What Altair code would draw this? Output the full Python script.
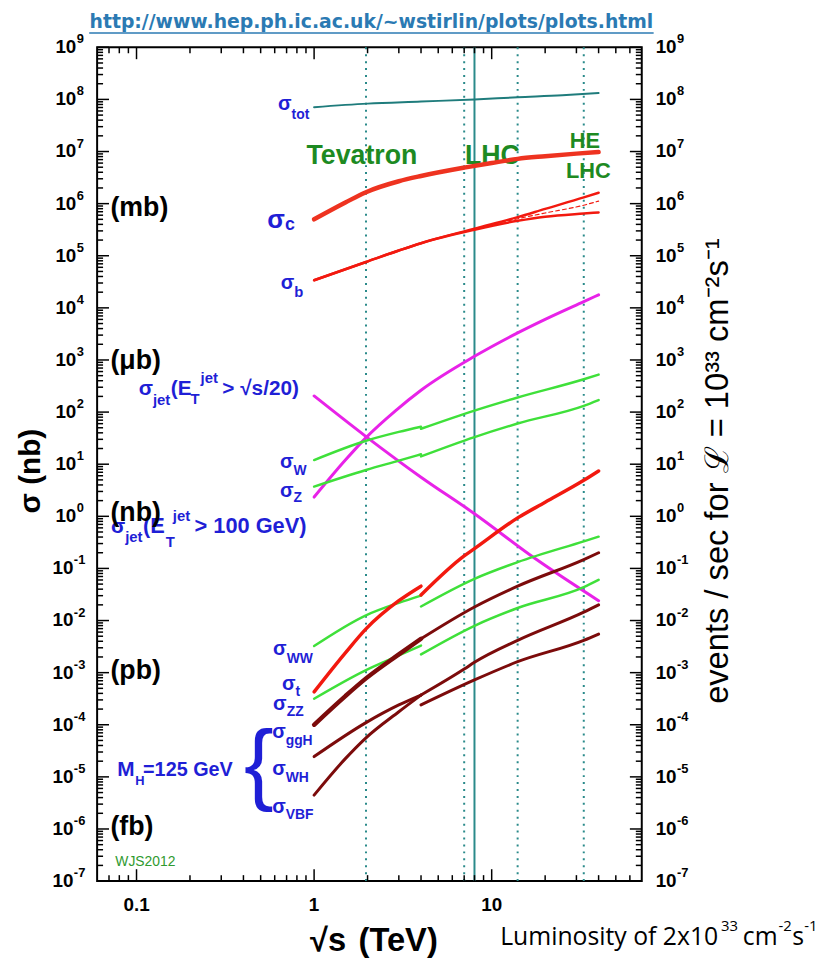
import altair as alt
import pandas as pd
from collections import defaultdict

# ---------------- data (sqrt(s) in TeV, sigma in nb) ----------------
TOT_S = [1, 2, 4, 8, 14, 25, 40]
TOT_SIG = [7.1e7, 8.3e7, 9.1e7, 1.0e8, 1.1e8, 1.2e8, 1.33e8]

C_S = [1, 1.5, 1.96, 3, 4, 7, 10, 14, 20, 30, 40]
C_SIG = [5.0e5, 1.05e6, 1.66e6, 2.69e6, 3.39e6, 4.9e6, 6.03e6, 7.24e6, 8.13e6, 9.12e6, 9.77e6]

B_S = [1, 1.96, 3, 4, 8, 14, 20, 33, 40]
B_UP_SIG = [3.39e4, 7.59e4, 1.26e5, 1.74e5, 3.31e5, 5.5e5, 7.94e5, 1.32e6, 1.62e6]
B_LO_SIG = [3.39e4, 7.59e4, 1.26e5, 1.74e5, 3.16e5, 4.68e5, 5.62e5, 6.46e5, 6.76e5]
B_MID_S = [8, 14, 20, 33, 40]
B_MID_SIG = [3.24e5, 5.13e5, 6.61e5, 9.33e5, 1.12e6]

JETUP_S = [1, 1.5, 1.96, 2.88, 4, 8, 14, 20, 33, 40]
JETUP_SIG = [2.34, 12.0, 32.4, 107, 263, 1175, 3311, 6026, 1.32e4, 1.78e4]
JETDN_S = [1, 1.96, 4, 8, 17.4, 40]
JETDN_SIG = [204, 33.9, 5.62, 1.12, 0.158, 0.024]

PPBAR_S = [1, 1.96, 3, 4]
PP_S = [4, 8, 14, 33, 40]
W_PPBAR = [12.0, 28.2, 41.7, 52.5]
W_PP = [47.9, 107, 191, 427, 525]
Z_PPBAR = [3.72, 7.76, 11.7, 15.5]
Z_PP = [14.1, 33.1, 60.3, 132, 170]

T_PPBAR_S = [1, 1.5, 1.96, 3, 4]
T_PPBAR = [4.27e-4, 2.40e-3, 6.92e-3, 2.40e-2, 4.57e-2]
T_PP_S = [4, 7, 8, 14, 20, 33, 40]
T_PP = [3.09e-2, 0.174, 0.240, 0.933, 1.86, 4.90, 7.41]

WW_PPBAR = [3.24e-3, 1.26e-2, 2.19e-2, 3.02e-2]
WW_PP = [1.86e-2, 6.31e-2, 0.132, 0.331, 0.407]
ZZ_PPBAR = [3.16e-4, 1.12e-3, 2.14e-3, 3.31e-3]
ZZ_PP = [2.24e-3, 7.94e-3, 1.74e-2, 4.37e-2, 6.03e-2]

GGH_PPBAR_S = [1, 1.5, 1.96, 3, 4]
GGH_PPBAR = [1.0e-4, 3.55e-4, 7.76e-4, 2.24e-3, 4.47e-3]
GGH_PP = [4.47e-3, 1.82e-2, 4.57e-2, 0.148, 0.20]
WH_PPBAR = [2.45e-5, 1.10e-4, 2.40e-4, 3.72e-4]
WH_PP = [2.40e-4, 7.24e-4, 1.62e-3, 4.17e-3, 5.5e-3]
VBF_PPBAR_S = [1, 1.5, 1.96, 3, 4]
VBF_PPBAR = [4.47e-6, 2.24e-5, 5.62e-5, 1.78e-4, 3.72e-4]
VBF_PP_S = [4, 7, 8, 14, 33, 40]
VBF_PP = [3.72e-4, 1.17e-3, 1.58e-3, 4.17e-3, 1.45e-2, 2.0e-2]

COLLIDER_DOTTED = [1.96, 7, 14, 33]
COLLIDER_SOLID = [8]

Y_EXPONENTS = list(range(-7, 10))
X_MAJOR = [0.1, 1, 10]
X_MAJOR_LABELS = ["0.1", "1", "10"]
X_MINOR = [0.07, 0.08, 0.09, 0.2, 0.3, 0.4, 0.5, 0.6, 0.7, 0.8, 0.9,
           2, 3, 4, 5, 6, 7, 8, 9, 20, 30, 40, 50, 60]
Y_MINOR_MULT = [2, 3, 4, 5, 6, 7, 8, 9]

# ---------------- styling ----------------
W, H = 550, 842
FONT = "Liberation Sans"
RED = "#f2190f"
MAGENTA = "#e822e8"
GREEN = "#3fe03a"
DARKRED = "#7c0b0b"
TEAL = "#2a8a8a"
BLUE = "#1f1fd6"
GREENTXT = "#1d8a22"

XS = alt.Scale(type="log", domain=[0.06, 70], nice=False)
YS = alt.Scale(type="log", domain=[1e-7, 1e9], nice=False)


def xenc(f="s"):
    return alt.X(f + ":Q", scale=XS, axis=None)


def yenc(f="v"):
    return alt.Y(f + ":Q", scale=YS, axis=None)


def curve(s, v, color, width, dash=None):
    mk = dict(color=color, strokeWidth=width, interpolate="monotone", strokeCap="round")
    if dash:
        mk["strokeDash"] = dash
    return alt.Chart(pd.DataFrame({"s": s, "v": v})).mark_line(**mk).encode(x=xenc(), y=yenc())


def labels(items, color, weight="bold", font=FONT, baseline="middle"):
    groups = defaultdict(list)
    for t, lx, ly, size, align in items:
        groups[(size, align)].append({"t": t, "s": 10 ** lx, "v": 10 ** ly})
    out = []
    for (size, align), rows in groups.items():
        out.append(
            alt.Chart(pd.DataFrame(rows)).mark_text(
                fontSize=size, align=align, baseline=baseline, font=font,
                fontWeight=weight, color=color
            ).encode(x=xenc(), y=yenc(), text="t:N")
        )
    return out


def ptext(t, x, y, size, color="black", weight="bold", align="center", font=FONT, angle=0, baseline="middle"):
    mk = dict(fontSize=size, color=color, fontWeight=weight, align=align, font=font, baseline=baseline)
    if angle:
        mk["angle"] = angle
    return alt.Chart(pd.DataFrame({"t": [t]})).mark_text(**mk).encode(
        x=alt.value(x), y=alt.value(y), text="t:N")


def yrule(vals, x1, x2):
    return alt.Chart(pd.DataFrame({"v": vals})).mark_rule(color="black", strokeWidth=1.5).encode(
        y=yenc(), x=alt.value(x1), x2=alt.value(x2))


def xrule(vals, y1, y2):
    return alt.Chart(pd.DataFrame({"s": vals})).mark_rule(color="black", strokeWidth=1.5).encode(
        x=xenc(), y=alt.value(y1), y2=alt.value(y2))


def ylab(exps, x10, xexp, align10):
    df = pd.DataFrame({"v": [10.0 ** e for e in exps], "b": ["10"] * len(exps),
                       "e": [str(e) for e in exps]})
    a = alt.Chart(df).mark_text(fontSize=19, fontWeight="bold", font=FONT, align=align10,
                                baseline="middle").encode(x=alt.value(x10), y=yenc(), text="b:N")
    b = alt.Chart(df).mark_text(fontSize=13, fontWeight="bold", font=FONT, align="left",
                                baseline="middle", dy=-8).encode(x=alt.value(xexp), y=yenc(), text="e:N")
    return [a, b]


layers = []

# collider lines
layers.append(alt.Chart(pd.DataFrame({"s": COLLIDER_DOTTED})).mark_rule(
    color=TEAL, strokeWidth=2, strokeDash=[2, 5]).encode(x=xenc()))
layers.append(alt.Chart(pd.DataFrame({"s": COLLIDER_SOLID})).mark_rule(
    color=TEAL, strokeWidth=2).encode(x=xenc()))

# collider names (under the curves)
layers += labels([
    ("Tevatron", -0.0429, 6.914, 27, "left"),
    ("LHC", 0.8494, 6.914, 27, "left"),
    ("HE", 1.5243, 7.200, 22, "center"),
    ("LHC", 1.5438, 6.629, 22, "center"),
], GREENTXT)

# curves
layers += [
    curve(TOT_S, TOT_SIG, "#1f7c7c", 2),
    curve(C_S, C_SIG, "#ee3320", 4.5),
    curve(B_S, B_UP_SIG, RED, 2.5),
    curve(B_S, B_LO_SIG, RED, 2.5),
    curve(B_MID_S, B_MID_SIG, RED, 1.2, [4, 3]),
    curve(JETUP_S, JETUP_SIG, MAGENTA, 3),
    curve(JETDN_S, JETDN_SIG, MAGENTA, 3),
    curve(PPBAR_S, W_PPBAR, GREEN, 2.5),
    curve(PP_S, W_PP, GREEN, 2.5),
    curve(PPBAR_S, Z_PPBAR, GREEN, 2.5),
    curve(PP_S, Z_PP, GREEN, 2.5),
    curve(PPBAR_S, WW_PPBAR, GREEN, 2.5),
    curve(PP_S, WW_PP, GREEN, 2.5),
    curve(PPBAR_S, ZZ_PPBAR, GREEN, 2.5),
    curve(PP_S, ZZ_PP, GREEN, 2.5),
    curve(T_PPBAR_S, T_PPBAR, RED, 3.5),
    curve(T_PP_S, T_PP, RED, 3.5),
    curve(GGH_PPBAR_S, GGH_PPBAR, DARKRED, 4.5),
    curve(PP_S, GGH_PP, DARKRED, 3),
    curve(PPBAR_S, WH_PPBAR, DARKRED, 3),
    curve(PP_S, WH_PP, DARKRED, 3),
    curve(VBF_PPBAR_S, VBF_PPBAR, DARKRED, 3),
    curve(VBF_PP_S, VBF_PP, DARKRED, 3),
]

# process labels
layers += labels([
    ("σ", -0.1266, 7.903, 20, "right"), ("tot", -0.1266, 7.694, 14, "left"),
    ("σ", -0.164, 5.679, 26, "right"), ("c", -0.164, 5.584, 18, "left"),
    ("σ", -0.1115, 4.468, 20, "right"), ("b", -0.1115, 4.31, 15, "left"),
    ("σ", -0.1154, 1.040, 20, "right"), ("W", -0.1154, 0.869, 14, "left"),
    ("σ", -0.1154, 0.489, 20, "right"), ("Z", -0.1154, 0.356, 14, "left"),
    ("σ", -0.1545, -2.553, 20, "right"), ("WW", -0.1545, -2.743, 14, "left"),
    ("σ", -0.1043, -3.219, 20, "right"), ("t", -0.1043, -3.371, 14, "left"),
    ("σ", -0.1545, -3.599, 20, "right"), ("ZZ", -0.1545, -3.751, 14, "left"),
    ("σ", -0.16, -4.131, 20, "right"), ("ggH", -0.16, -4.321, 14, "left"),
    ("σ", -0.16, -4.854, 20, "right"), ("WH", -0.16, -5.025, 14, "left"),
    ("σ", -0.16, -5.576, 20, "right"), ("VBF", -0.16, -5.728, 14, "left"),
    ("σ", -0.9074, 2.447, 21, "right"), ("jet", -0.9074, 2.238, 15, "left"),
    ("(E", -0.807, 2.447, 21, "left"), ("T", -0.6955, 2.257, 15, "left"),
    ("jet", -0.6397, 2.656, 15, "left"), ("> √s/20)", -0.517, 2.447, 21, "left"),
    ("σ", -1.0636, -0.215, 21, "right"), ("jet", -1.0636, -0.405, 15, "left"),
    ("(E", -0.9632, -0.196, 22, "left"), ("T", -0.8349, -0.4886, 15, "left"),
    ("jet", -0.7959, 0.0057, 15, "left"), ("> 100 GeV)", -0.6732, -0.196, 22, "left"),
    ("M", -1.108, -4.873, 21, "left"), ("H", -1.0078, -5.082, 13, "left"),
    ("=125 GeV", -0.9632, -4.873, 20, "left"),
], BLUE)
layers += labels([("{", -0.3107, -5.30, 90, "center")], BLUE, weight="normal", baseline="alphabetic")

layers += labels([
    ("(mb)", -1.147, 5.913, 27, "left"),
    ("(μb)", -1.147, 2.979, 27, "left"),
    ("(nb)", -1.147, 0.07, 27, "left"),
    ("(pb)", -1.147, -2.97, 27, "left"),
    ("(fb)", -1.147, -5.96, 27, "left"),
], "black")
layers += labels([("WJS2012", -1.1194, -6.641, 14, "left")], "#2f9a2f", weight="normal")

# ticks
y_major = [10.0 ** e for e in Y_EXPONENTS]
y_minor = [m * 10.0 ** e for e in Y_EXPONENTS[:-1] for m in Y_MINOR_MULT]
layers += [
    yrule(y_major, 0, 12), yrule(y_minor, 0, 6),
    yrule(y_major, W, W - 12), yrule(y_minor, W, W - 6),
    xrule(X_MAJOR, H, H - 12), xrule(X_MINOR, H, H - 6),
    xrule(X_MAJOR, 0, 12), xrule(X_MINOR, 0, 6),
]

# axis tick labels
layers += ylab([e for e in Y_EXPONENTS if e >= 0], -21, -20.5, "right")
layers += ylab([e for e in Y_EXPONENTS if e < 0], -24, -23.5, "right")
layers += ylab(Y_EXPONENTS, W + 14, W + 35.5, "left")
layers.append(alt.Chart(pd.DataFrame({"s": X_MAJOR, "t": X_MAJOR_LABELS})).mark_text(
    fontSize=19, fontWeight="bold", font=FONT, baseline="middle").encode(
    x=xenc(), y=alt.value(H + 24), text="t:N"))

# titles
layers.append(ptext("http://www.hep.ph.ic.ac.uk/~wstirlin/plots/plots.html", 277, -25, 19,
                    color="#2b7ab3", font="DejaVu Sans"))
layers.append(alt.Chart(pd.DataFrame({"a": [0]})).mark_rule(color="#2b7ab3", strokeWidth=1.5).encode(
    x=alt.value(-8), x2=alt.value(562), y=alt.value(-14.5)))
layers.append(ptext("σ  (nb)", -67, 428, 30, angle=270))
layers.append(ptext("√s", 215, 903, 33, align="left"))
layers.append(ptext("(TeV)", 264, 903, 33, align="left"))
layers.append(ptext("events / sec for ℒ = 10³³ cm⁻²s⁻¹", 627, 428, 33, weight="normal", angle=270))
layers.append(ptext("Luminosity of 2x10", 407, 899, 25, weight="normal", align="left", font="Open Sans"))
layers.append(ptext("33", 630, 887, 15, weight="normal", align="left", font="Open Sans"))
layers.append(ptext("cm", 652, 899, 25, weight="normal", align="left", font="Open Sans"))
layers.append(ptext("-2", 688, 887, 15, weight="normal", align="left", font="Open Sans"))
layers.append(ptext("s", 702, 899, 25, weight="normal", align="left", font="Open Sans"))
layers.append(ptext("-1", 714, 887, 15, weight="normal", align="left", font="Open Sans"))

chart = alt.layer(*layers).properties(
    width=W, height=H,
    autosize=alt.AutoSizeParams(type="none"),
    padding={"left": 90, "top": 35, "right": 181, "bottom": 76},
).configure_view(stroke="black", strokeWidth=2)

chart.save("out.html", embed_options={"renderer": "svg", "actions": False})
